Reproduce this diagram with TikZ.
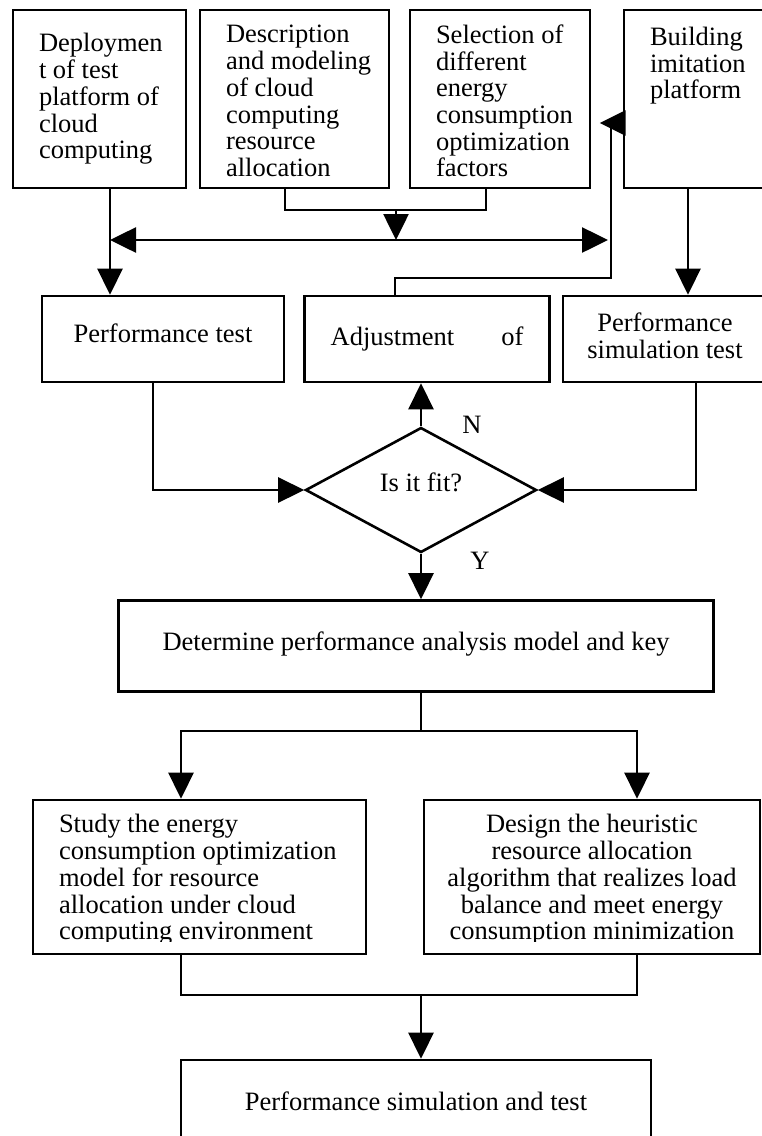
\documentclass[tikz,border=0pt]{standalone}
\usepackage{fontspec}
\setmainfont{Liberation Serif}
\usetikzlibrary{arrows.meta,shapes.geometric}

\begin{document}
\begin{tikzpicture}[x=1pt, y=-1pt, line width=2.6pt]
\tikzset{ >={Triangle[length=26pt,width=25pt]},
  txt/.style={inner sep=0pt, font={\fontsize{26.5pt}{26.7pt}\selectfont}},
  box/.style={draw, txt, inner xsep=26pt, inner ysep=0pt},
}
\useasboundingbox (0,0) rectangle (761,1136);
%\draw [lightgray, dashed](0,0) grid[step=50] (761,1136);

% top row
\node [box, minimum width=173pt, minimum height=178pt] (B1) at (99.5,99) {};
\node [box, minimum width=189pt, minimum height=178pt] (B2) at (294.5,99) {};
\node [box, minimum width=180pt, minimum height=178pt] (B3) at (500,99) {};
\node [box, minimum width=156pt, minimum height=178pt] (B4) at (702,99) {};
\node [txt, align=left, anchor=west] (B1t) at ([xshift=26pt]B1.west)
  {Deploymen\\t of test\\platform of\\cloud\\computing};
\node [txt, align=left, anchor=west] (B2t) at ([xshift=26pt,yshift=-2pt]B2.west)
  {Description\\and modeling\\of cloud\\computing\\resource\\allocation};
\node [txt, align=left, anchor=west] (B3t) at ([xshift=26pt,yshift=-2pt]B3.west)
  {Selection of\\different\\energy\\consumption\\optimization\\factors};
\node [txt, align=left, anchor=north west] (B4t) at ([xshift=26pt,yshift=-17pt]B4.north west)
  {Building\\imitation\\platform};

% second row
\node [box, minimum width=242pt, minimum height=86pt] (P1) at (163,339) {\raisebox{12pt}{Performance test}};
\node [box, minimum width=242pt, minimum height=86pt] (P2) at (427,339) {Adjustment\hspace{47pt}of};
\node [box, minimum width=204pt, minimum height=86pt] (P3) at (665,339) {};
\node [txt, align=center] (P3t) at ([yshift=3pt]P3.center) {Performance\\simulation test};

\node [draw, txt, diamond, minimum width=231pt, minimum height=125pt] (Q) at (421,490) {\raisebox{16pt}{Is it fit?}};
\node [txt] (N) at (472,425) {N};
\node [txt] (Y) at (480,561) {Y};

\node [box, minimum width=595pt, minimum height=91pt] (D) at (416,646)
  {\raisebox{10pt}{Determine performance analysis model and key}};

% lower row
\node [box, minimum width=333pt, minimum height=154pt] (S1) at (199.5,877) {};
\node [box, minimum width=336pt, minimum height=154pt] (S2) at (592,877) {};
\begin{scope}
\clip (0,800) rectangle (761,941);
\node [txt, align=left, anchor=west] (S1t) at ([xshift=26pt,yshift=-3pt]S1.west)
  {Study the energy\\consumption optimization\\model for resource\\allocation under cloud\\computing environment};
\node [txt, align=center] (S2t) at ([yshift=-3pt]S2.center)
  {Design the heuristic\\resource allocation\\algorithm that realizes load\\balance and meet energy\\consumption minimization};
\end{scope}

\node [box, minimum width=470pt, minimum height=150pt] (E) at (416,1135) {};
\node [txt] (Et) at (416,1101) {Performance simulation and test};

% connectors, top part
\coordinate (hl) at (110,240);
\coordinate (hr) at (608,240);
\coordinate (j) at (396,210);
\draw [->] ([xshift=10.5pt]B1.south) -- ([xshift=10.5pt]B1.south |- P1.north);
\draw [<->] (hl) -- (hr);
\draw ([xshift=-9.5pt]B2.south) |- (j) -| ([xshift=-14pt]B3.south);
\draw [->] (j) -- (j |- hl);
\draw ([xshift=-32pt]P2.north) |- (611,278) -- (611,125);
\draw [->] ([yshift=-24pt]B4.west) -- ++(-23pt,0);
\draw [->] ([xshift=-14pt]B4.south) -- ([xshift=-14pt]B4.south |- P3.north);

% around the decision
\draw [->] ([xshift=-10pt]P1.south) |- (Q.west);
\draw [->] ([xshift=31pt]P3.south) |- (Q.east);
\draw [->] (Q.north) -- (Q.north |- P2.south);
\draw [->] (Q.south) -- (Q.south |- D.north);

% split and merge
\coordinate (split) at (421,731);
\coordinate (merge) at (421,995);
\draw (split |- D.south) -- (split);
\draw [->] (split) -| ([xshift=-18.5pt]S1.north);
\draw [->] (split) -| ([xshift=45pt]S2.north);
\draw ([xshift=-18.5pt]S1.south) |- (merge) -| ([xshift=45pt]S2.south);
\draw [->] (merge) -- (merge |- E.north);
\end{tikzpicture}
\end{document}
